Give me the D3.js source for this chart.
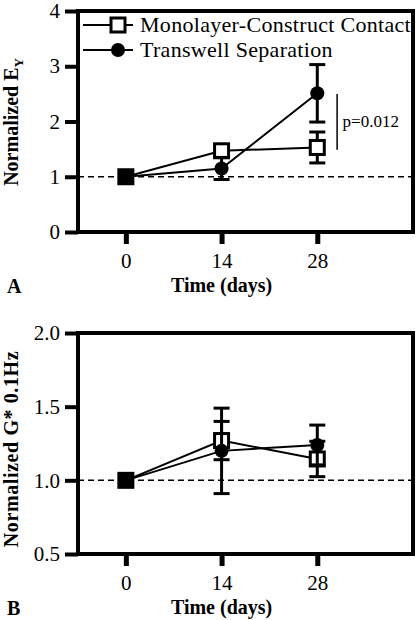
<!DOCTYPE html>
<html><head><meta charset="utf-8">
<script src="https://cdn.jsdelivr.net/npm/d3@7"></script>
<style>html,body{margin:0;padding:0;background:#fff;}svg{display:block;}</style>
</head><body>
<script>
const days = [0, 14, 28];
const xTicks = [0, 14, 28];
const seriesNames = ["Monolayer-Construct Contact", "Transwell Separation"];
// Panel A: Normalized E_Y
const aMono = [1.0, 1.47, 1.53];
const aMonoErr = [0, 0.05, 0.28];
const aTrans = [1.0, 1.15, 2.51];
const aTransErr = [0, 0.2, 0.52];
const aYTicks = [0, 1, 2, 3, 4];
const aYTickLabels = ["0", "1", "2", "3", "4"];
const pText = "p=0.012";
const pRange = [1.49, 2.5];
// Panel B: Normalized G* 0.1Hz
const bMono = [1.0, 1.27, 1.145];
const bMonoErr = [0, 0.13, 0.12];
const bTrans = [1.0, 1.20, 1.24];
const bTransErr = [0, 0.29, 0.135];
const bYTicks = [0.5, 1.0, 1.5, 2.0];
const bYTickLabels = ["0.5", "1.0", "1.5", "2.0"];

const W = 416, H = 620;
const svg = d3.select("body").append("svg").attr("width", W).attr("height", H);
const serif = "'Liberation Serif','Times New Roman',serif";

function panel(cfg) {
  const g = svg.append("g");
  const x = d3.scaleLinear().domain([-7, 42]).range([78, 413]);
  const y = d3.scaleLinear().domain(cfg.yDomain).range([cfg.bottom, cfg.top]);
  // box
  g.append("rect").attr("x", x.range()[0]).attr("y", cfg.top)
    .attr("width", x.range()[1] - x.range()[0]).attr("height", cfg.bottom - cfg.top)
    .attr("fill", "none").attr("stroke", "#000").attr("stroke-width", 4);
  // y axis
  const ya = g.append("g").attr("transform", `translate(${x.range()[0]},0)`)
    .call(d3.axisLeft(y).tickValues(cfg.yTicks).tickFormat((d, i) => cfg.yLabels[i]).tickSize(13).tickPadding(5));
  ya.select(".domain").remove();
  ya.selectAll(".tick line").attr("stroke-width", 4);
  ya.selectAll(".tick text").attr("font-family", serif).attr("font-size", 21).attr("fill", "#000");
  // x axis
  const xa = g.append("g").attr("transform", `translate(0,${cfg.bottom})`)
    .call(d3.axisBottom(x).tickValues(xTicks).tickSize(12).tickPadding(9));
  xa.select(".domain").remove();
  xa.selectAll(".tick line").attr("stroke-width", 5);
  xa.selectAll(".tick text").attr("font-family", serif).attr("font-size", 21).attr("fill", "#000");
  // dashed reference
  g.append("line").attr("x1", x.range()[0]).attr("x2", x.range()[1])
    .attr("y1", y(1)).attr("y2", y(1)).attr("stroke", "#000").attr("stroke-width", 1.5)
    .attr("stroke-dasharray", "6,4");
  // axis titles
  g.append("text").attr("x", x(14)).attr("y", cfg.bottom + 60).attr("text-anchor", "middle")
    .attr("font-family", serif).attr("font-weight", "bold").attr("font-size", 20).text("Time (days)");
  const yt = g.append("text").attr("transform", `translate(18,${cfg.yTitleY}) rotate(-90)`)
    .attr("text-anchor", "middle").attr("font-family", serif).attr("font-weight", "bold")
    .attr("font-size", 20).attr("letter-spacing", cfg.yTitleSpacing);
  cfg.yTitle(yt);
  g.append("text").attr("x", 7).attr("y", cfg.bottom + 61).attr("font-family", serif)
    .attr("font-weight", "bold").attr("font-size", 20).text(cfg.letter);

  const line = d3.line().x((d, i) => x(days[i])).y(d => y(d));
  const drawSeries = (vals, errs, kind) => {
    g.append("path").datum(vals).attr("d", line).attr("fill", "none").attr("stroke", "#000").attr("stroke-width", 2);
    vals.forEach((v, i) => {
      if (errs[i] > 0) {
        const cx = x(days[i]);
        g.append("line").attr("x1", cx).attr("x2", cx).attr("y1", y(v - errs[i])).attr("y2", y(v + errs[i]))
          .attr("stroke", "#000").attr("stroke-width", 3);
        [v - errs[i], v + errs[i]].forEach(e => g.append("line").attr("x1", cx - 8).attr("x2", cx + 8)
          .attr("y1", y(e)).attr("y2", y(e)).attr("stroke", "#000").attr("stroke-width", 3));
      }
    });
    vals.forEach((v, i) => {
      const cx = x(days[i]), cy = y(v);
      if (kind === "square") {
        g.append("rect").attr("x", cx - 7).attr("y", cy - 7).attr("width", 14).attr("height", 14)
          .attr("fill", days[i] === 0 ? "#000" : "#fff").attr("stroke", "#000").attr("stroke-width", 3);
      } else {
        g.append("circle").attr("cx", cx).attr("cy", cy).attr("r", 7).attr("fill", "#000");
      }
    });
  };
  drawSeries(cfg.mono, cfg.monoErr, "square");
  drawSeries(cfg.trans, cfg.transErr, "circle");
  return { g, x, y };
}

const A = panel({
  top: 11, bottom: 232, yDomain: [0, 4], yTicks: aYTicks, yLabels: aYTickLabels,
  mono: aMono, monoErr: aMonoErr, trans: aTrans, transErr: aTransErr, letter: "A", yTitleY: 122, yTitleSpacing: 0,
  yTitle: t => { t.append("tspan").text("Normalized E"); t.append("tspan").attr("font-size", 13).attr("dy", 5).text("Y"); }
});
// p-value annotation
A.g.append("line").attr("x1", A.x(30.9)).attr("x2", A.x(30.9)).attr("y1", A.y(pRange[1])).attr("y2", A.y(pRange[0]))
  .attr("stroke", "#000").attr("stroke-width", 1.5);
A.g.append("text").attr("x", A.x(31.7)).attr("y", A.y((pRange[0] + pRange[1]) / 2) + 5)
  .attr("font-family", serif).attr("font-size", 17).text(pText);
// legend
const leg = A.g.append("g");
seriesNames.forEach((name, i) => {
  const ly = 25 + i * 25;
  leg.append("line").attr("x1", 83).attr("x2", 133).attr("y1", ly).attr("y2", ly).attr("stroke", "#000").attr("stroke-width", 2);
  if (i === 0) leg.append("rect").attr("x", 111).attr("y", ly - 7).attr("width", 14).attr("height", 14)
    .attr("fill", "#fff").attr("stroke", "#000").attr("stroke-width", 3);
  else leg.append("circle").attr("cx", 118).attr("cy", ly).attr("r", 7).attr("fill", "#000");
  leg.append("text").attr("x", 140).attr("y", ly + 7).attr("font-family", serif).attr("font-size", 22)
    .attr("letter-spacing", 0.3).text(name);
});

panel({
  top: 333, bottom: 554, yDomain: [0.5, 2.0], yTicks: bYTicks, yLabels: bYTickLabels,
  mono: bMono, monoErr: bMonoErr, trans: bTrans, transErr: bTransErr, letter: "B", yTitleY: 449, yTitleSpacing: 0.6,
  yTitle: t => t.text("Normalized G* 0.1Hz")
});
</script>
</body></html>
